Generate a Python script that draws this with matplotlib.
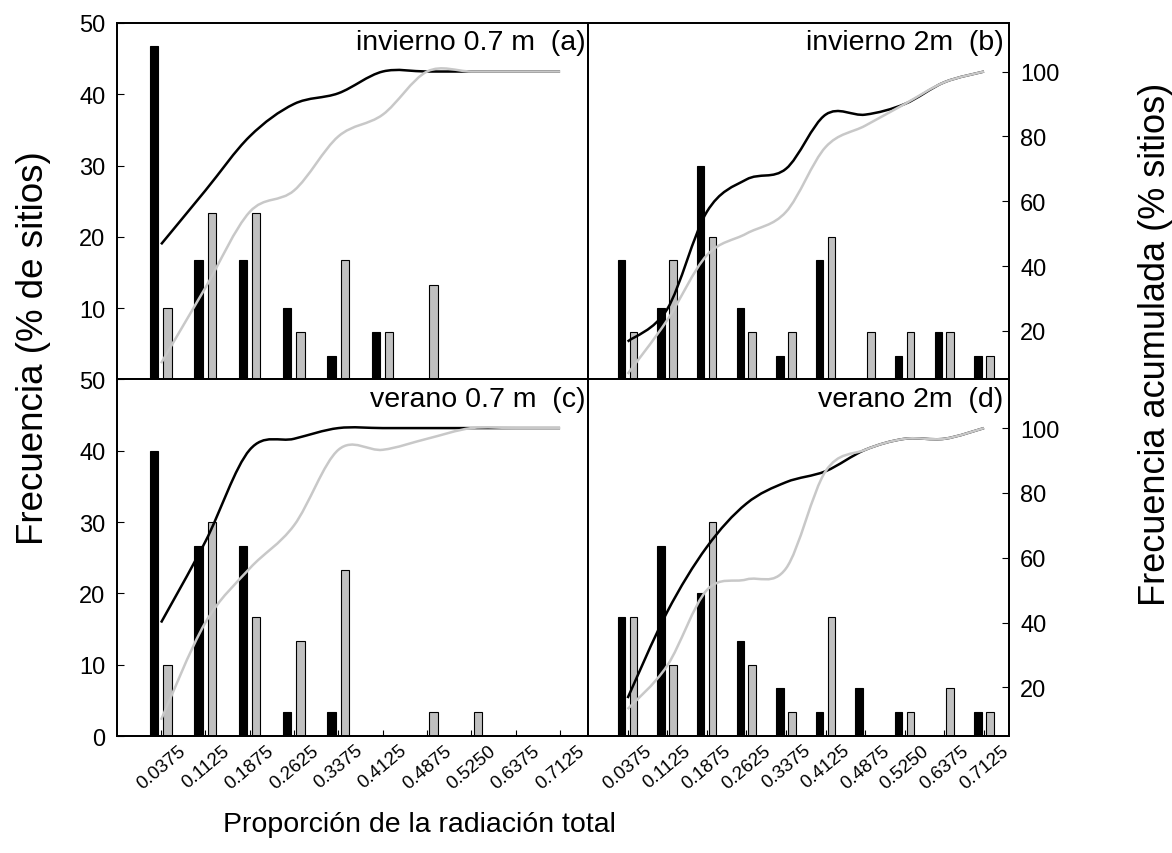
import numpy as np
import matplotlib
matplotlib.use('Agg')
import matplotlib.pyplot as plt
from matplotlib.path import Path
from matplotlib.patches import PathPatch

plt.rcParams['font.family'] = ['Liberation Sans', 'DejaVu Sans']

# ----- DATA -------------
x_labels = ['0.0375', '0.1125', '0.1875', '0.2625', '0.3375',
            '0.4125', '0.4875', '0.5250', '0.6375', '0.7125']

# bar frequencies (% de sitios)
a_black = [46.7, 16.7, 16.7, 10.0, 3.3, 6.7, 0, 0, 0, 0]
a_gray = [10.0, 23.3, 23.3, 6.7, 16.7, 6.7, 13.3, 0, 0, 0]
b_black = [16.7, 10.0, 30.0, 10.0, 3.3, 16.7, 0, 3.3, 6.7, 3.3]
b_gray = [6.7, 16.7, 20.0, 6.7, 6.7, 20.0, 6.7, 6.7, 6.7, 3.3]
c_black = [40.0, 26.7, 26.7, 3.3, 3.3, 0, 0, 0, 0, 0]
c_gray = [10.0, 30.0, 16.7, 13.3, 23.3, 0, 3.3, 3.3, 0, 0]
d_black = [16.7, 26.7, 20.0, 13.3, 6.7, 3.3, 6.7, 3.3, 0, 3.3]
d_gray = [16.7, 10.0, 30.0, 10.0, 3.3, 16.7, 0, 3.3, 6.7, 3.3]

# cumulative frequency curves (% sitios), right axis
a_black_cum = [46.7, 63.3, 80.0, 90.0, 93.3, 100, 100, 100, 100, 100]
a_gray_cum = [10.0, 33.3, 56.7, 63.3, 80.0, 86.7, 100, 100, 100, 100]
b_black_cum = [16.7, 26.7, 56.7, 66.7, 70.0, 86.7, 86.7, 90.0, 96.7, 100]
b_gray_cum = [6.7, 23.3, 43.3, 50.0, 56.7, 76.7, 83.3, 90.0, 96.7, 100]
c_black_cum = [40.0, 65.0, 93.3, 96.7, 100, 100, 100, 100, 100, 100]
c_gray_cum = [10.0, 40.0, 56.7, 70.0, 93.3, 93.3, 96.7, 100, 100, 100]
d_black_cum = [16.7, 43.3, 63.3, 76.7, 83.3, 86.7, 93.3, 96.7, 96.7, 100]
d_gray_cum = [13.3, 26.7, 50.0, 53.3, 56.7, 86.7, 93.3, 96.7, 96.7, 100]

panel_titles = ['invierno 0.7 m  (a)', 'invierno 2m  (b)',
                'verano 0.7 m  (c)', 'verano 2m  (d)']

GRAY = '#c0c0c0'
LINE_GRAY = '#c8c8c8'


def smooth_path(xs, ys):
    # Excel-like smoothed line: cubic bezier segments through the points
    xs = np.asarray(xs, float)
    ys = np.asarray(ys, float)
    n = len(xs)
    verts = [(xs[0], ys[0])]
    codes = [Path.MOVETO]
    for i in range(n - 1):
        i0 = max(i - 1, 0)
        i3 = min(i + 2, n - 1)
        c1 = (xs[i] + (xs[i + 1] - xs[i0]) / 6, ys[i] + (ys[i + 1] - ys[i0]) / 6)
        c2 = (xs[i + 1] - (xs[i3] - xs[i]) / 6, ys[i + 1] - (ys[i3] - ys[i]) / 6)
        verts += [c1, c2, (xs[i + 1], ys[i + 1])]
        codes += [Path.CURVE4] * 3
    return Path(verts, codes)


fig = plt.figure(figsize=(11.72, 8.54), dpi=100)

# axes rectangles (fraction of figure)
left_x, left_w = 0.0996, 0.4021
right_x, right_w = 0.5017, 0.3592
top_y, bot_y, h = 0.5545, 0.137, 0.4175

panels = [
    (left_x, top_y, left_w, a_black, a_gray, a_black_cum, a_gray_cum),
    (right_x, top_y, right_w, b_black, b_gray, b_black_cum, b_gray_cum),
    (left_x, bot_y, left_w, c_black, c_gray, c_black_cum, c_gray_cum),
    (right_x, bot_y, right_w, d_black, d_gray, d_black_cum, d_gray_cum),
]

x = np.arange(len(x_labels))
bw = 0.19

for k, (px, py, pw, blk, gry, blk_cum, gry_cum) in enumerate(panels):
    is_left = k in (0, 2)
    is_bottom = k in (2, 3)

    ax = fig.add_axes([px, py, pw, h])
    ax.bar(x - 0.155, blk, width=bw, color='black', edgecolor='black', linewidth=0.8, zorder=2)
    ax.bar(x + 0.145, gry, width=bw, color=GRAY, edgecolor='black', linewidth=0.8, zorder=2)
    ax.set_xlim(-1, 9.63)
    ax.set_ylim(0, 50)

    ax2 = ax.twinx()
    ax2.set_ylim(5, 115)
    ax2.add_patch(PathPatch(smooth_path(x, blk_cum), facecolor='none',
                            edgecolor='black', lw=1.8, zorder=3))
    ax2.add_patch(PathPatch(smooth_path(x, gry_cum), facecolor='none',
                            edgecolor=LINE_GRAY, lw=1.8, zorder=4))

    for a in (ax, ax2):
        for s in a.spines.values():
            s.set_linewidth(1.3)

    # left axis
    if is_left:
        ax.set_yticks([0, 10, 20, 30, 40, 50])
        if is_bottom:
            ax.set_yticklabels(['0', '10', '20', '30', '40', '50'])
        else:
            ax.set_yticklabels(['', '10', '20', '30', '40', '50'])
        ax.tick_params(axis='y', direction='in', length=5, labelsize=17, pad=8)
    else:
        ax.set_yticks([])

    # right axis
    if not is_left:
        ax2.set_yticks([20, 40, 60, 80, 100])
        ax2.tick_params(axis='y', direction='in', length=5, labelsize=17, pad=8)
    else:
        ax2.set_yticks([])

    # x axis
    if is_bottom:
        ax.set_xticks(x)
        ax.set_xticklabels(x_labels, rotation=40, ha='center', va='top')
        ax.tick_params(axis='x', direction='in', length=4, labelsize=13.5, pad=4)
    else:
        ax.set_xticks([])

    ax.text(0.994 if is_left else 0.987, 0.946, panel_titles[k], transform=ax.transAxes,
            ha='right', va='center', fontsize=20.5, zorder=5)

fig.text(0.029, 0.5925, 'Frecuencia (% de sitios)', rotation=90,
         ha='center', va='center', fontsize=26.5)
fig.text(0.9855, 0.597, 'Frecuencia acumulada (% sitios)', rotation=90,
         ha='center', va='center', fontsize=26)
fig.text(0.358, 0.034, 'Proporción de la radiación total',
         ha='center', va='center', fontsize=20.5)

fig.savefig('out.png', dpi=100)
